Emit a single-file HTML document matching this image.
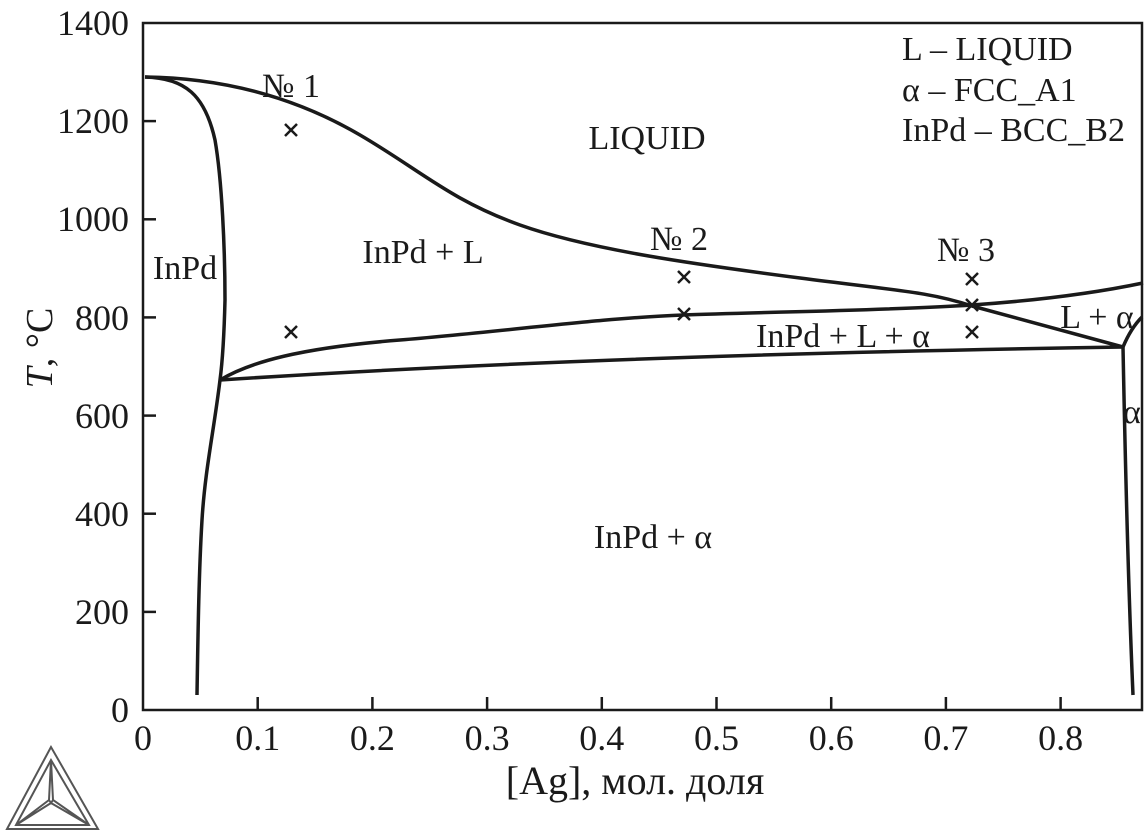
<!DOCTYPE html>
<html><head><meta charset="utf-8"><style>
html,body{margin:0;padding:0;background:#fff}
svg{display:block}
text{font-family:"Liberation Serif",serif;fill:#1a1a1a}
</style></head><body>
<svg width="1146" height="834" viewBox="0 0 1146 834" xmlns="http://www.w3.org/2000/svg">
<g fill="none" stroke="#1a1a1a" stroke-width="2.5">
<rect x="143" y="23" width="999" height="687"/>
</g>
<g stroke="#1a1a1a" stroke-width="2.5">
<line x1="143" y1="611.9" x2="156" y2="611.9"/>
<line x1="143" y1="513.7" x2="156" y2="513.7"/>
<line x1="143" y1="415.6" x2="156" y2="415.6"/>
<line x1="143" y1="317.4" x2="156" y2="317.4"/>
<line x1="143" y1="219.3" x2="156" y2="219.3"/>
<line x1="143" y1="121.1" x2="156" y2="121.1"/>
<line x1="257.7" y1="697" x2="257.7" y2="710"/>
<line x1="372.4" y1="697" x2="372.4" y2="710"/>
<line x1="487.1" y1="697" x2="487.1" y2="710"/>
<line x1="601.8" y1="697" x2="601.8" y2="710"/>
<line x1="716.5" y1="697" x2="716.5" y2="710"/>
<line x1="831.2" y1="697" x2="831.2" y2="710"/>
<line x1="945.9" y1="697" x2="945.9" y2="710"/>
<line x1="1060.6" y1="697" x2="1060.6" y2="710"/>
</g>
<g fill="none" stroke="#1a1a1a" stroke-width="3.5" stroke-linejoin="round">
<path d="M145,77 C230,78 300,100 360,135 S 450,200 520,225 S 700,265 800,278 S 930,292 972,306 L1123,347"/>
<path d="M145,77 C185,78 205,95 215,140 C222,180 225,250 225,300 C224,340 222,365 220,380 C214,430 205,470 202,520 C199,570 198,630 197,695"/>
<path d="M220,380 C250,362 300,348 400,340 S 600,318 683,315 S 900,310 972,305 S 1100,292 1143,283"/>
<path d="M220,380 Q600,355 1123,347"/>
<path d="M1123,347 C1128,335 1134,325 1142,317"/>
<path d="M1123,347 C1125,450 1128,580 1133,695"/>
</g>
<g stroke="#1a1a1a" stroke-width="2.5">
<path d="M285,124l12,12M297,124l-12,12"/>
<path d="M285,326l12,12M297,326l-12,12"/>
<path d="M678,271l12,12M690,271l-12,12"/>
<path d="M678,308l12,12M690,308l-12,12"/>
<path d="M966,273l12,12M978,273l-12,12"/>
<path d="M966,299l12,12M978,299l-12,12"/>
<path d="M966,326l12,12M978,326l-12,12"/>
</g>
<g font-size="36" text-anchor="end">
<text x="129" y="35">1400</text>
<text x="129" y="133">1200</text>
<text x="129" y="231">1000</text>
<text x="129" y="330">800</text>
<text x="129" y="428">600</text>
<text x="129" y="526">400</text>
<text x="129" y="624">200</text>
<text x="129" y="722">0</text>
</g>
<g font-size="36" text-anchor="middle">
<text x="143" y="750">0</text>
<text x="257.7" y="750">0.1</text>
<text x="372.4" y="750">0.2</text>
<text x="487.1" y="750">0.3</text>
<text x="601.8" y="750">0.4</text>
<text x="716.5" y="750">0.5</text>
<text x="831.2" y="750">0.6</text>
<text x="945.9" y="750">0.7</text>
<text x="1060.6" y="750">0.8</text>
<text x="635" y="794" font-size="40">[Ag], мол. доля</text>
</g>
<text transform="translate(52,348) rotate(-90)" font-size="38" text-anchor="middle"><tspan font-style="italic">T</tspan>, °C</text>
<g font-size="34">
<text x="262" y="97">№ 1</text>
<text x="650" y="250">№ 2</text>
<text x="937" y="261">№ 3</text>
<text x="647" y="149" text-anchor="middle">LIQUID</text>
<text x="423" y="263" text-anchor="middle">InPd + L</text>
<text x="185" y="279" text-anchor="middle">InPd</text>
<text x="843" y="347" text-anchor="middle">InPd + L + α</text>
<text x="1097" y="328" text-anchor="middle">L + α</text>
<text x="1123" y="423">α</text>
<text x="653" y="548" text-anchor="middle">InPd + α</text>
<text x="902" y="60">L – LIQUID</text>
<text x="902" y="101">α – FCC_A1</text>
<text x="902" y="141">InPd – BCC_B2</text>
</g>
<g fill="none" stroke="#555" stroke-width="2">
<path d="M51,747 L7,829 L98,829 Z"/>
<path d="M51,760 L16,825 L89,825 Z"/>
<path d="M51,760 L49,800 L16,825 M51,760 L53,800 L89,825 M49,800 L51,803 L53,800 M51,803 L16,825 M51,803 L89,825"/>
</g>
</svg>
</body></html>
